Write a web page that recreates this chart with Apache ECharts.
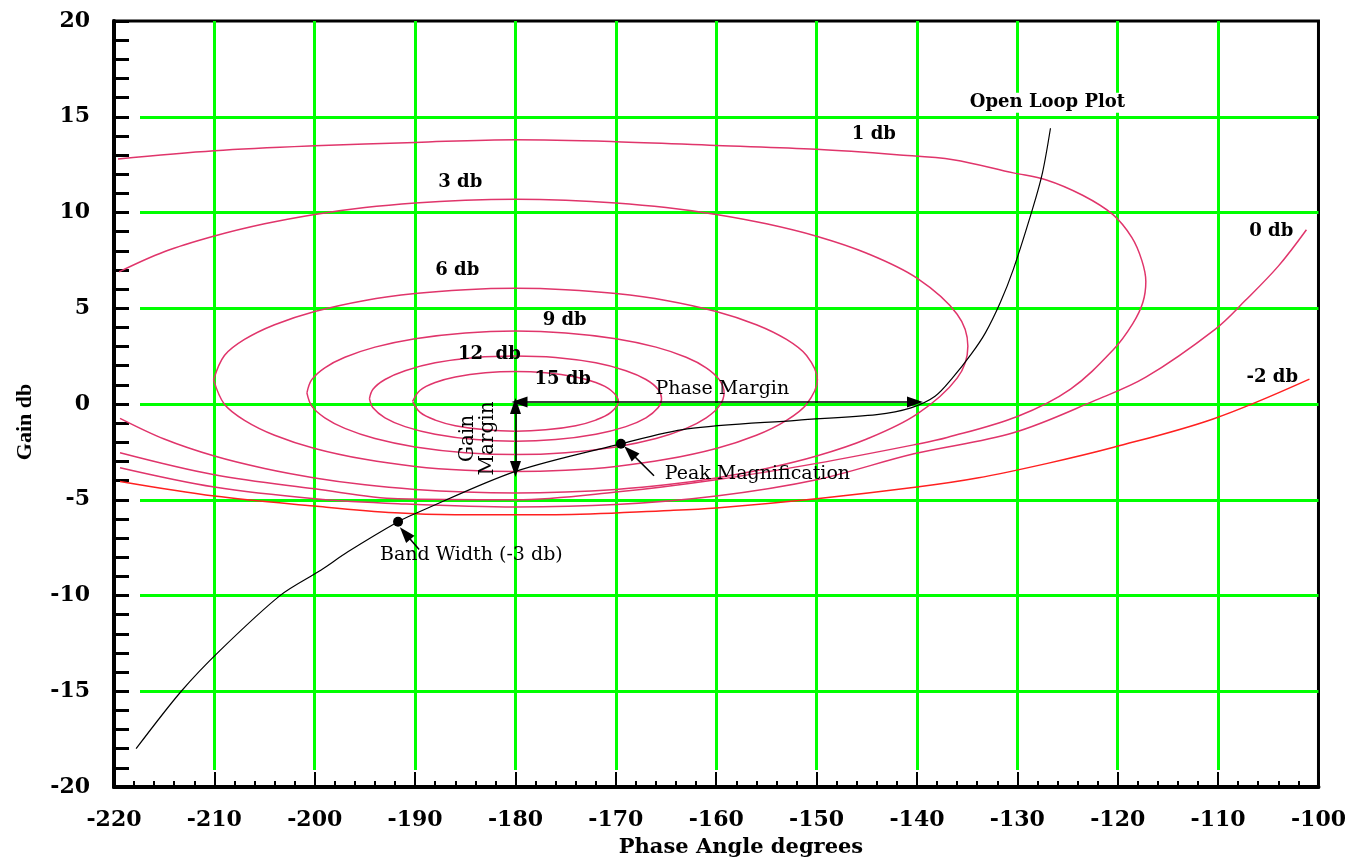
<!DOCTYPE html>
<html>
<head>
<meta charset="utf-8">
<title>Nichols chart</title>
<script src="https://cdn.jsdelivr.net/npm/echarts@6/dist/echarts.min.js"></script>
<style>
  html, body { margin: 0; padding: 0; background: #fff; }
  #chart { width: 1349px; height: 863px; }
</style>
</head>
<body>
<div id="chart"></div>
<script>
// closed-loop magnitude contours, [phase deg, gain db]
var m15 = [[-190.25,0.14],[-189.5,0.72],[-188,1.12],[-186,1.41],[-183,1.63],[-180,1.70],[-177,1.63],[-174,1.41],[-172,1.12],[-170.5,0.72],[-169.75,0.14],[-170.5,-0.44],[-172,-0.84],[-174,-1.13],[-177,-1.35],[-180,-1.42],[-183,-1.35],[-186,-1.13],[-188,-0.84],[-189.5,-0.44],[-190.25,0.14]];
var m12 = [[-194.55,0.28],[-194.2,0.77],[-193,1.28],[-191,1.74],[-188,2.15],[-184,2.43],[-180,2.51],[-176,2.43],[-172,2.15],[-169,1.74],[-167,1.28],[-165.8,0.77],[-165.45,0.28],[-165.8,-0.20],[-167,-0.72],[-169,-1.18],[-172,-1.58],[-176,-1.86],[-180,-1.95],[-184,-1.86],[-188,-1.58],[-191,-1.18],[-193,-0.72],[-194.2,-0.20],[-194.55,0.28]];
var m9 = [[-200.78,0.58],[-200.3,1.27],[-199,1.89],[-197,2.44],[-194,2.97],[-190,3.41],[-185,3.71],[-180,3.81],[-175,3.71],[-170,3.41],[-166,2.97],[-163,2.44],[-161,1.89],[-159.7,1.27],[-159.22,0.58],[-159.7,-0.11],[-161,-0.72],[-163,-1.27],[-166,-1.80],[-170,-2.24],[-175,-2.54],[-180,-2.64],[-185,-2.54],[-190,-2.24],[-194,-1.80],[-197,-1.27],[-199,-0.72],[-200.3,-0.11],[-200.78,0.58]];
var m6 = [[-210.08,1.26],[-209,2.53],[-207,3.37],[-204,4.14],[-200,4.83],[-195,5.41],[-190,5.77],[-185,5.97],[-180,6.04],[-175,5.97],[-170,5.77],[-165,5.41],[-160,4.83],[-156,4.14],[-153,3.37],[-151,2.53],[-149.92,1.26],[-151,-0.01],[-153,-0.85],[-156,-1.63],[-160,-2.32],[-165,-2.89],[-170,-3.26],[-175,-3.46],[-180,-3.53],[-185,-3.46],[-190,-3.26],[-195,-2.89],[-200,-2.32],[-204,-1.63],[-207,-0.85],[-209,-0.01],[-210.08,1.26]];
var m3 = [[-219.5,6.9],[-215,7.95],[-210,8.77],[-205,9.41],[-200,9.9],[-195,10.26],[-190,10.5],[-185,10.64],[-180,10.69],[-175,10.64],[-170,10.5],[-165,10.26],[-160,9.9],[-155,9.41],[-150,8.76],[-145,7.87],[-140,6.57],[-136,4.69],[-134.93,3.02],[-136,1.35],[-140,-0.53],[-145,-1.83],[-150,-2.72],[-155,-3.37],[-160,-3.86],[-165,-4.22],[-170,-4.46],[-175,-4.6],[-180,-4.65],[-185,-4.6],[-190,-4.46],[-195,-4.22],[-200,-3.86],[-205,-3.37],[-210,-2.72],[-215,-1.83],[-219.4,-0.75]];
var m1 = [[-219.6,12.8],[-210,13.23],[-200,13.49],[-190,13.66],[-180,13.8],[-170,13.7],[-160,13.5],[-150,13.3],[-142,13.02],[-136.4,12.76],[-130.4,12.07],[-127.1,11.7],[-123.5,10.9],[-120.5,9.9],[-118.6,8.7],[-117.6,7.5],[-117.2,6.4],[-117.5,5.3],[-118.5,4.2],[-120.4,2.86],[-124.7,0.78],[-130,-0.65],[-137,-1.75],[-140,-2.1],[-150,-3.1],[-160,-3.95],[-170,-4.6],[-180,-5.0],[-191.7,-4.95],[-200,-4.43],[-210,-3.7],[-219.4,-2.55]];
var m0 = [[-219.4,-3.33],[-210,-4.34],[-200,-4.95],[-191.7,-5.21],[-180,-5.38],[-170,-5.25],[-160,-4.8],[-150,-3.95],[-140.3,-2.6],[-130.4,-1.5],[-122.2,0.2],[-117.2,1.4],[-110.3,3.9],[-107.3,5.4],[-104,7.2],[-101.2,9.1]];
var mMinus2 = [[-219.4,-4.05],[-210,-4.81],[-200,-5.33],[-192,-5.68],[-186,-5.78],[-176,-5.78],[-164.6,-5.56],[-160,-5.43],[-150,-4.95],[-140,-4.34],[-134,-3.87],[-127,-3.1],[-120.4,-2.26],[-110.5,-0.78],[-100.9,1.3]];

// open loop frequency response
var openLoop = [[-217.8,-18.0],[-213.3,-15.0],[-209.4,-12.85],[-203.4,-9.98],[-199.4,-8.68],[-196.7,-7.72],[-191.7,-6.15],[-189.8,-5.68],[-180,-3.52],[-169.5,-2.08],[-162.9,-1.3],[-152,-0.85],[-144,-0.55],[-140.6,-0.2],[-138.2,0.4],[-136.4,1.4],[-134.6,2.6],[-133.2,3.7],[-131.7,5.3],[-130.4,7.03],[-128.5,10.16],[-127.5,12.07],[-126.7,14.4]];
var keyPoints = [[-191.7,-6.15],[-169.5,-2.08]];

// margins and pointers
var phaseMargin = [[-179.6,0.1],[-140.2,0.1]];
var gainMargin = [[-180,-0.1],[-180,-3.4]];
var bandPointer = [[-189.6,-7.6],[-191.0,-6.75]];
var peakPointer = [[-166.2,-3.75],[-168.6,-2.5]];

var contourText = ['1 db','3 db','6 db','9 db','12  db','15 db','0 db','-2 db'];
var contourTextAt = [[-144.3,14.06],[-185.5,11.6],[-185.8,6.98],[-175.1,4.38],[-182.6,2.6],[-175.3,1.3],[-104.7,9.0],[-104.6,1.4]];

var chart = echarts.init(document.getElementById('chart'));

var pink = '#e0356b';
var serif = 'DejaVu Serif';

function contour(data, color) {
  return {
    type: 'line', data: data, smooth: 0.35, showSymbol: false, silent: true,
    lineStyle: { color: color, width: 1.5 }, z: 3, animation: false
  };
}

function arrow(pts, both) {
  return [{ coord: pts[0], symbol: both ? 'triangle' : 'none' }, { coord: pts[1], symbol: 'triangle' }];
}

var notes = [];
for (var i = 0; i < contourText.length; i++) {
  notes.push({ name: contourText[i], value: contourTextAt[i],
    label: { fontWeight: 'bold', fontSize: 18 } });
}
notes.push({ name: 'Open Loop Plot', value: [-127, 15.73],
  label: { fontWeight: 'bold', fontSize: 18, backgroundColor: '#fff', padding: [1, 3] } });
notes.push({ name: 'Phase Margin', value: [-159.4, 0.78], label: { fontSize: 19 } });
notes.push({ name: 'Peak Magnification', value: [-155.9, -3.65], label: { fontSize: 19 } });
notes.push({ name: 'Band Width (-3 db)', value: [-184.4, -7.9], label: { fontSize: 19 } });
notes.push({ name: 'Gain\nMargin', value: [-183.8, -1.8], label: { fontSize: 20, rotate: 90, lineHeight: 20 } });

var option = {
  backgroundColor: '#fff',
  animation: false,
  grid: { left: 114, right: 25, top: 21, bottom: 76, show: true, borderColor: '#000', borderWidth: 3 },
  xAxis: {
    type: 'value', min: -220, max: -100, interval: 10,
    axisLine: { onZero: false, lineStyle: { color: '#000', width: 4 } },
    axisTick: { inside: true, length: 15, lineStyle: { color: '#000', width: 2 } },
    minorTick: { show: true, splitNumber: 5, length: 6, lineStyle: { color: '#000', width: 2 } },
    axisLabel: { color: '#000', fontFamily: serif, fontWeight: 'bold', fontSize: 22, margin: 22 },
    splitLine: { show: true, showMinLine: false, showMaxLine: false,
      lineStyle: { color: '#00ff00', width: 3, type: [749, 60] } }
  },
  yAxis: {
    type: 'value', min: -20, max: 20, interval: 5,
    axisLine: { onZero: false, lineStyle: { color: '#000', width: 4 } },
    axisTick: { inside: true, length: 15, lineStyle: { color: '#000', width: 3 } },
    minorTick: { show: true, splitNumber: 5, length: 15, lineStyle: { color: '#000', width: 3 } },
    axisLabel: { color: '#000', fontFamily: serif, fontWeight: 'bold', fontSize: 22, margin: 24 },
    splitLine: { show: true, showMinLine: false, showMaxLine: false,
      lineStyle: { color: '#00ff00', width: 3, type: [1184, 26], dashOffset: 1184 } }
  },
  graphic: [
    { type: 'text', x: 741, y: 848, style: { text: 'Phase Angle degrees', fill: '#000',
      font: 'bold 21px "DejaVu Serif"', align: 'center', verticalAlign: 'middle' } },
    { type: 'text', x: 25, y: 422, rotation: Math.PI / 2, style: { text: 'Gain db', fill: '#000',
      font: 'bold 22px "Liberation Serif"', align: 'center', verticalAlign: 'middle' } }
  ],
  series: [
    contour(m15, pink), contour(m12, pink), contour(m9, pink), contour(m6, pink),
    contour(m3, pink), contour(m1, pink), contour(m0, pink), contour(mMinus2, '#ff2020'),
    {
      type: 'line', data: openLoop, smooth: 0.3, showSymbol: false, silent: true, z: 4,
      lineStyle: { color: '#000', width: 1.2 }
    },
    {
      type: 'scatter', data: keyPoints, symbolSize: 10, z: 6, silent: true,
      itemStyle: { color: '#000', opacity: 1 }
    },
    {
      type: 'line', data: [], silent: true, z: 5,
      markLine: {
        silent: true, animation: false, symbolSize: [11, 16],
        label: { show: false },
        lineStyle: { color: '#000', width: 1.5, type: 'solid' },
        data: [arrow(phaseMargin, true), arrow(gainMargin, true), arrow(bandPointer, false), arrow(peakPointer, false)]
      }
    },
    {
      type: 'scatter', data: notes, symbolSize: 1, z: 7, silent: true,
      itemStyle: { color: 'rgba(255,255,255,0)', opacity: 1 },
      label: { show: true, position: 'inside', formatter: '{b}', color: '#000', opacity: 1,
        textBorderWidth: 0, fontFamily: serif }
    }
  ]
};

chart.setOption(option);
</script>
</body>
</html>
